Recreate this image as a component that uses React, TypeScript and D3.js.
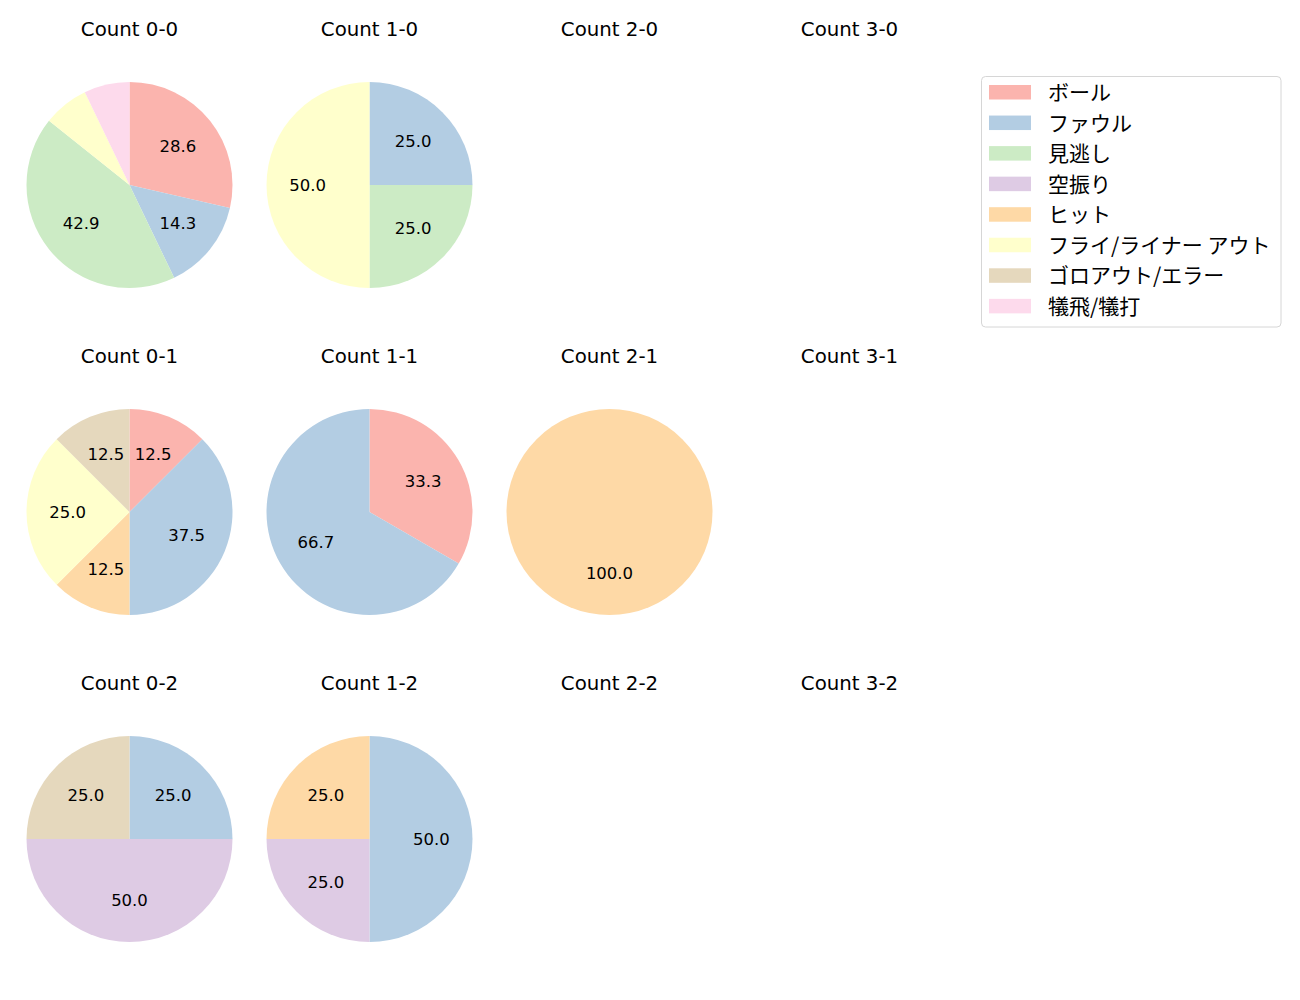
import React from "react";
import * as d3 from "d3";

const categories = ["ボール", "ファウル", "見逃し", "空振り", "ヒット", "フライ/ライナー アウト", "ゴロアウト/エラー", "犠飛/犠打"];
const colors = ["#fbb4ae", "#b3cde3", "#ccebc5", "#decbe4", "#fed9a6", "#ffffcc", "#e5d8bd", "#fddaec"];

const balls = [0, 1, 2, 3];
const strikes = [0, 1, 2];

// counts per category, keyed "balls-strikes"
const count00 = [4, 2, 6, 0, 0, 1, 0, 1];
const count10 = [0, 1, 1, 0, 0, 2, 0, 0];
const count01 = [1, 3, 0, 0, 1, 2, 1, 0];
const count11 = [1, 2, 0, 0, 0, 0, 0, 0];
const count21 = [0, 0, 0, 0, 1, 0, 0, 0];
const count02 = [0, 1, 0, 2, 0, 0, 1, 0];
const count12 = [0, 2, 0, 1, 1, 0, 0, 0];

const countData: Record<string, number[]> = {
  "0-0": count00,
  "1-0": count10,
  "0-1": count01,
  "1-1": count11,
  "2-1": count21,
  "0-2": count02,
  "1-2": count12,
};

const LATIN = "'DejaVu Sans', 'Noto Sans CJK JP', sans-serif";
const CJK = "'Noto Sans CJK JP', 'DejaVu Sans', sans-serif";

function Pie({ values, cx, cy, r }: { values: number[]; cx: number; cy: number; r: number }) {
  const total = d3.sum(values);
  const items = values.map((v, i) => ({ v, i })).filter((d) => d.v > 0);
  const pie = d3.pie<{ v: number; i: number }>().value((d) => d.v).sort(null).startAngle(0).endAngle(2 * Math.PI);
  const arcs = pie(items);
  const arc = d3.arc<d3.PieArcDatum<{ v: number; i: number }>>().innerRadius(0).outerRadius(r);
  return (
    <g transform={`translate(${cx},${cy})`}>
      {arcs.map((a) => (
        <path key={a.data.i} d={arc(a) || ""} fill={colors[a.data.i]} />
      ))}
      {arcs.map((a) => {
        const pct = (a.data.v / total) * 100;
        if (pct < 10) return null;
        const mid = (a.startAngle + a.endAngle) / 2;
        const x = Math.sin(mid) * r * 0.6;
        const y = -Math.cos(mid) * r * 0.6;
        return (
          <text key={"t" + a.data.i} x={x} y={y} textAnchor="middle" dominantBaseline="central" fontFamily={LATIN} fontSize={16.5} fill="#000">
            {pct.toFixed(1)}
          </text>
        );
      })}
    </g>
  );
}

export default function App() {
  const colX = d3.scaleLinear().domain([0, 3]).range([129.5, 849.5]);
  const rowY = d3.scaleLinear().domain([0, 2]).range([185, 839]);
  const r = 103;
  return (
    <svg width={1300} height={1000} style={{ display: "block", position: "absolute", left: 0, top: 0 }}>
      <rect width={1300} height={1000} fill="#fff" />
      {strikes.map((s) =>
        balls.map((b) => {
          const key = `${b}-${s}`;
          const cx = colX(b);
          const cy = rowY(s);
          const vals = countData[key];
          return (
            <g key={key}>
              <text x={cx} y={cy - 149} textAnchor="middle" fontFamily={LATIN} fontSize={19.8} fill="#000">
                {`Count ${key}`}
              </text>
              {vals && <Pie values={vals} cx={cx} cy={cy} r={r} />}
            </g>
          );
        })
      )}
      <g>
        <rect x={981.5} y={76.5} width={299.5} height={250.5} rx={4} fill="#fff" stroke="#d6d6d6" strokeWidth={1} />
        {categories.map((c, i) => {
          const y = 92 + i * 30.55;
          return (
            <g key={c}>
              <rect x={989} y={y - 7} width={42} height={14.5} fill={colors[i]} />
              <text x={1048} y={y - 1} dominantBaseline="central" fontFamily={CJK} fontSize={21} fill="#000">
                {c}
              </text>
            </g>
          );
        })}
      </g>
    </svg>
  );
}
